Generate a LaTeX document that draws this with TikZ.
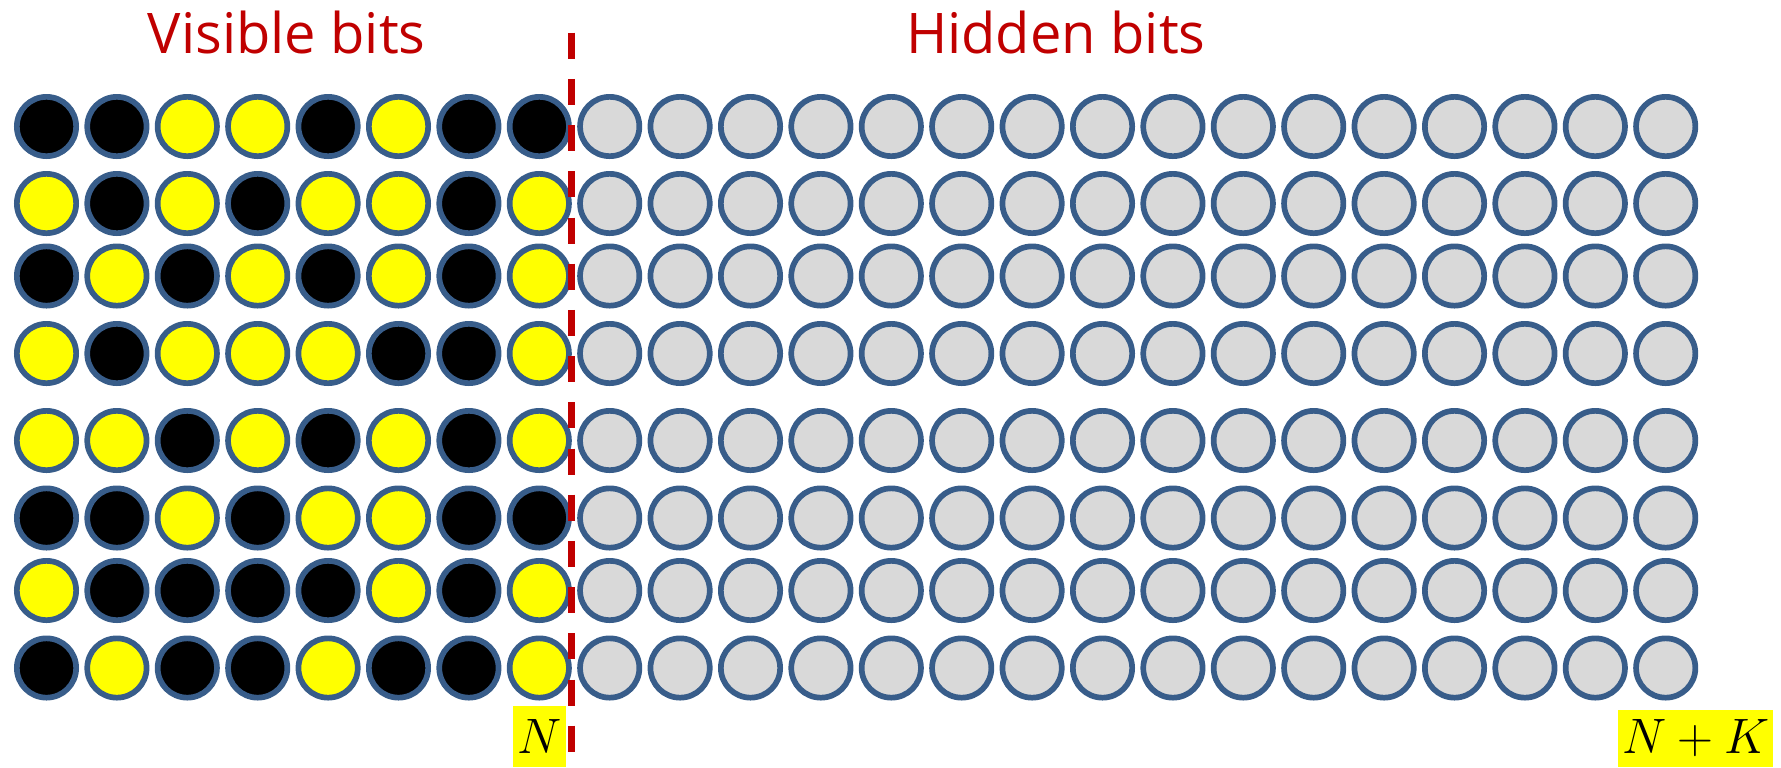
\documentclass[tikz,border=0pt]{standalone}
\usepackage{fontspec}
\setmainfont{Open Sans}
\definecolor{ringblue}{RGB}{56,93,138}
\definecolor{hidgray}{RGB}{217,217,217}
\definecolor{titlered}{RGB}{192,0,0}
\definecolor{bityellow}{RGB}{255,255,0}
\tikzset{
  bit/.style={circle, draw=ringblue, line width=2.85pt, minimum size=29.65pt, inner sep=0pt},
  onbit/.style={bit, fill=bityellow},
  offbit/.style={bit, fill=black},
  hidbit/.style={bit, fill=hidgray},
  title/.style={text=titlered, font=\fontsize{28}{32}\selectfont, anchor=base, inner sep=0pt},
  divider/.style={draw=titlered, line width=3.35pt, dash pattern=on 13pt off 10.1pt},
  tag/.style={fill=bityellow, inner sep=0pt, font=\fontsize{26}{30}\selectfont}
}
\begin{document}
\begin{tikzpicture}[x=0.5pt,y=-0.5pt]
\useasboundingbox (0,0) rectangle (1781,767);
% visible bit patterns: 1 = yellow, 0 = black
\def\rowys{126.5,203.5,276,353.5,440.5,518,590.5,668}
\foreach \pat [count=\r] in {
  {0,0,1,1,0,1,0,0},
  {1,0,1,0,1,1,0,1},
  {0,1,0,1,0,1,0,1},
  {1,0,1,1,1,0,0,1},
  {1,1,0,1,0,1,0,1},
  {0,0,1,0,1,1,0,0},
  {1,0,0,0,0,1,0,1},
  {0,1,0,0,1,0,0,1}} {
  \foreach \yy [count=\k] in \rowys {
    \ifnum\k=\r \xdef\cury{\yy}\fi
  }
  \foreach \b [count=\c] in \pat {
    \ifnum\b=1
      \node[onbit] (c-\r-\c) at ({46.5+70.4*(\c-1)},\cury) {};
    \else
      \node[offbit] (c-\r-\c) at ({46.5+70.4*(\c-1)},\cury) {};
    \fi
  }
  \foreach \c in {9,...,24} {
    \node[hidbit] (c-\r-\c) at ({46.5+70.4*(\c-1)},\cury) {};
  }
}
\coordinate (dtop) at (571.7,32.7);
\coordinate (dbot) at (571.7,753);
\draw[divider] (dtop) -- (dbot);
\node[title] (vis) at (286.7,53.3) {Visible bits};
\node[title] (hid) at (1055.8,53.3) {Hidden bits};
\node[tag, minimum width=26.2pt, minimum height=30.65pt] (nlab) at (539.5,736.3) {$N$};
\node[tag, minimum width=77.5pt, minimum height=28.5pt] (nklab) at (1695.8,738.5) {$N+K$};
\end{tikzpicture}
\end{document}
